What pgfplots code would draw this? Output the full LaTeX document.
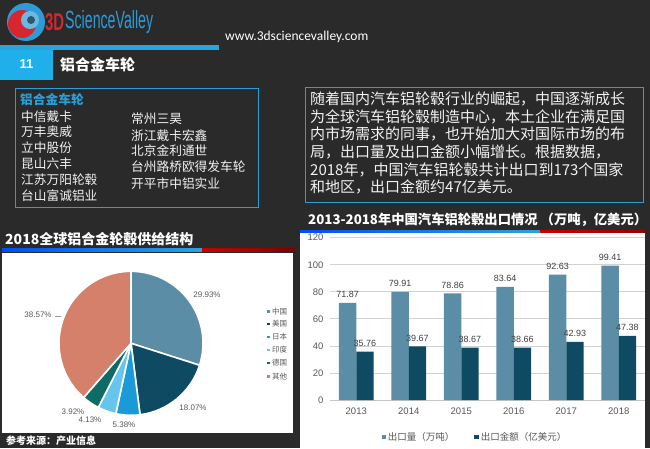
\documentclass[border=0pt]{standalone}
\usepackage{fontspec}
\usepackage{graphicx}
\usepackage{pgfplots}
\pgfplotsset{compat=1.18}
\setmainfont{Liberation Sans}
\newfontfamily\cjk{Noto Sans CJK SC}
\newfontfamily\webfont{Carlito}
\definecolor{bg}{HTML}{2A2A2A}
\definecolor{cyanline}{HTML}{2AA4DC}
\definecolor{boxblue}{HTML}{2A9FD6}
\definecolor{hdrblue}{HTML}{1FB0EC}
\definecolor{barA}{HTML}{5B8EA6}
\definecolor{barB}{HTML}{0E4A61}
\definecolor{pJapan}{HTML}{1A9BD7}
\definecolor{pIndia}{HTML}{66C5EC}
\definecolor{pGermany}{HTML}{0F6B66}
\definecolor{pOther}{HTML}{D4806B}
\definecolor{txtgray}{HTML}{595959}
\definecolor{lblgray}{HTML}{404040}
\definecolor{logored}{HTML}{D7262E}
\definecolor{logoblue}{HTML}{2E9AD6}
\begin{document}
\begin{tikzpicture}[x=1pt,y=1pt]
\useasboundingbox (0,0) rectangle (650,448);
\fill[bg] (0,0) rectangle (650,448);
% ---------- header ----------
\fill[logoblue] (26,426) circle[radius=19];
\fill[logored] (22,424) circle[radius=14];
\fill[logoblue!70!white] (30,428) circle[radius=9];
\fill[bg!60!logoblue] (31,428) circle[radius=4];
\node[anchor=west,inner sep=0,text=logored] at (45,426) {\resizebox{19pt}{17pt}{\bfseries 3D}};
\node[anchor=west,inner sep=0,text=logoblue] at (65,426) {\resizebox{88pt}{18pt}{ScienceValley}};
\node[anchor=west,inner sep=0,text=white] at (225,411) {\webfont\fontsize{13.5}{14}\selectfont www.3dsciencevalley.com};
\fill[cyanline] (0,398) rectangle (219,403);
\fill[hdrblue] (0,368) rectangle (53,398);
\node[text=white,inner sep=0] at (26.5,383.5) {\bfseries\fontsize{13}{14}\selectfont 11};
\node[anchor=west,text=white,inner sep=0] at (60,383.5) {\cjk\bfseries\fontsize{15}{16}\selectfont 铝合金车轮};
% ---------- left box ----------
\draw[boxblue,line width=1pt] (15,241) rectangle (258,359);
\node[anchor=west,inner sep=0,text=boxblue] at (20,348) {\cjk\bfseries\fontsize{12.7}{14}\selectfont 铝合金车轮};
\begin{scope}[every node/.style={anchor=west,inner sep=0,text=white!95!black,font=\cjk\fontsize{12.7}{14}\selectfont}]
\node at (21,331) {中信戴卡};
\node at (21,316.3) {万丰奥威};
\node at (21,300.3) {立中股份};
\node at (21,284) {昆山六丰};
\node at (21,268) {江苏万阳轮毂};
\node at (21,252) {台山富诚铝业};
\node at (131,329.7) {常州三昊};
\node at (131,312.3) {浙江戴卡宏鑫};
\node at (131,297) {北京金利通世};
\node at (131,281.3) {台州路桥欧得发车轮};
\node at (131,264.7) {开平市中铝实业};
\end{scope}
% ---------- right text box ----------
\draw[boxblue,line width=1pt] (305,246) rectangle (643,360);
\begin{scope}[every node/.style={anchor=west,inner sep=0,text=white!95!black,font=\cjk\fontsize{15}{16}\selectfont}]
\node at (310,349) {随着国内汽车铝轮毂行业的崛起，中国逐渐成长};
\node at (310,331.3) {为全球汽车铝轮毂制造中心，本土企业在满足国};
\node at (310,313.7) {内市场需求的同事，也开始加大对国际市场的布};
\node at (310,296) {局，出口量及出口金额小幅增长。根据数据，};
\node at (310,278.3) {2018年，中国汽车铝轮毂共计出口到173个国家};
\node at (310,260.6) {和地区，出口金额约47亿美元。};
\end{scope}
% ---------- pie panel ----------
\node[anchor=west,inner sep=0,text=white] at (5,209) {\cjk\bfseries\fontsize{14}{15}\selectfont 2018全球铝合金轮毂供给结构};
\shade[left color=blue!70!cyan, right color=cyanline] (2,196.5) rectangle (202,199.5);
\shade[left color=red!80!black, right color=red!50!black] (202,196.5) rectangle (295,199.5);
\fill[white] (2,15) rectangle (293,195);
\gdef\pieang{90}
\foreach \v/\c in {29.93/barA, 18.07/barB, 5.38/pJapan, 4.13/pIndia, 3.92/pGermany, 38.57/pOther}{
  \pgfmathsetmacro\ea{\pieang-3.6*\v}
  \filldraw[fill=\c,draw=white,line width=1.6pt,line join=round] (131,104.7) -- ++(\pieang:72) arc[start angle=\pieang,end angle=\ea,radius=72] -- cycle;
  \xdef\pieang{\ea}
}
\begin{scope}[every node/.style={inner sep=0,text=txtgray,font=\fontsize{8}{9}\selectfont}]
\node at (207,153) {29.93\%};
\node at (193,40) {18.07\%};
\node at (124,23) {5.38\%};
\node at (90,28) {4.13\%};
\node at (73,36) {3.92\%};
\node at (38,133) {38.57\%};
\end{scope}
\draw[txtgray!60,line width=0.4pt] (55,131.5) -- (61,131.5);
\foreach \c/\t/\yy in {barA/中国/136.3, barB/美国/124, pJapan/日本/111, pIndia/印度/98, pGermany/德国/85, pOther/其他/71.3}{
  \fill[\c] (267.4,\yy-1.3) rectangle ++(2.6,2.6);
  \node[anchor=west,inner sep=0,text=txtgray] at (272,\yy) {\cjk\fontsize{7.5}{8}\selectfont \t};
}
\node[anchor=west,inner sep=0,text=white] at (6,7.5) {\cjk\bfseries\fontsize{10}{11}\selectfont 参考来源：产业信息};
% ---------- bar panel ----------
\node[anchor=west,inner sep=0,text=white] at (308,228) {\cjk\bfseries\fontsize{13.3}{14}\selectfont 2013-2018年中国汽车铝轮毂出口情况\ （万吨，亿美元）};
\shade[left color=blue!70!cyan, right color=cyanline] (300,215) rectangle (540,218);
\shade[left color=red!80!black, right color=red!60!black] (540,215) rectangle (645,218);
\fill[white] (300,0) rectangle (645,215);
\begin{axis}[
  at={(330pt,48pt)}, anchor=south west, scale only axis,
  width=315pt, height=162.3pt,
  ybar=0pt, bar width=17.3pt,
  xmin=-0.5, xmax=5.5, ymin=0, ymax=120,
  xtick={0,1,2,3,4,5}, xticklabels={2013,2014,2015,2016,2017,2018},
  ytick={0,20,40,60,80,100,120},
  ymajorgrids, grid style={draw=gray!35,line width=0.8pt},
  axis x line*=bottom, axis y line*=left,
  y axis line style={draw=none},
  x axis line style={draw=gray!45,line width=0.8pt},
  major tick length=0pt,
  /pgf/number format/assume math mode=true,
  tick label style={font=\fontsize{9.5}{10}\selectfont,text=txtgray},
  xticklabel style={yshift=-4pt},
  yticklabel style={xshift=-3pt},
  nodes near coords,
  nodes near coords style={font=\fontsize{9}{10}\selectfont,text=lblgray,yshift=1.5pt,
    /pgf/number format/fixed,/pgf/number format/precision=2,/pgf/number format/fixed zerofill},
  legend style={at={(0.46,-0.228)},anchor=center,draw=none,fill=none,
    legend columns=2,font=\cjk\fontsize{9.5}{10}\selectfont,text=txtgray,
    /tikz/every even column/.append style={column sep=18pt}},
  legend image code/.code={\fill[#1,draw=none] (0pt,-2.2pt) rectangle (4.4pt,2.2pt);},
]
\addplot[fill=barA,draw=none] coordinates {(0,71.87) (1,79.91) (2,78.86) (3,83.64) (4,92.63) (5,99.41)};
\addlegendentry{出口量（万吨）}
\addplot[fill=barB,draw=none] coordinates {(0,35.76) (1,39.67) (2,38.67) (3,38.66) (4,42.93) (5,47.38)};
\addlegendentry{出口金额（亿美元）}
\end{axis}
\end{tikzpicture}
\end{document}
